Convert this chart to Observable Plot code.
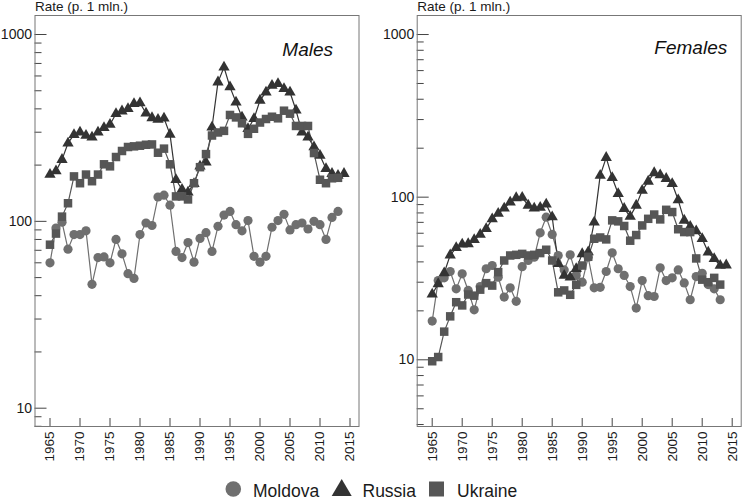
<!DOCTYPE html>
<html><head><meta charset="utf-8">
<script src="https://cdn.jsdelivr.net/npm/d3@7"></script>
<script src="https://cdn.jsdelivr.net/npm/@observablehq/plot@0.6"></script>
<style>
body{margin:0;background:#fff;font-family:"Liberation Sans",Arial,sans-serif;}
#wrap{position:relative;width:742px;height:499px;overflow:hidden;}
#left{position:absolute;left:0;top:0;}
#right{position:absolute;left:370px;top:0;}
#legend{position:absolute;left:0;top:470px;}
</style></head><body>
<div id="wrap"><div id="left"></div><div id="right"></div><div id="legend"></div></div>
<script>
const years = [1965,1966,1967,1968,1969,1970,1971,1972,1973,1974,1975,1976,1977,1978,1979,1980,1981,1982,1983,1984,1985,1986,1987,1988,1989,1990,1991,1992,1993,1994,1995,1996,1997,1998,1999,2000,2001,2002,2003,2004,2005,2006,2007,2008,2009,2010,2011,2012,2013,2014];
const countries = ["Moldova", "Russia", "Ukraine"];
const xTicks = [1965,1970,1975,1980,1985,1990,1995,2000,2005,2010,2015];
const yMajor = [10, 100, 1000];
const yLabel = "Rate (p. 1 mln.)";
const panelTitles = ["Males", "Females"];

// Males (1965–2013 for Moldova/Ukraine, 1965–2014 for Russia)
const moldovaMales = [60,92,99,71,85,85,89,46,64,64.5,60,80,67,52.5,49.5,85,98,95,135,138,122,69,64,77,60.5,81,87,69,94,108,113,96,89,101,65,60.5,65,93,101,109,90,96,98,91,100,96,80,105,113];
const russiaMales = [178,186,214,262,291,300,288,282,300,317,330,377,389,401,426,430,379,358,351,356,292,167,148,143,159,197,207,319,556,668,523,434,361,313,354,444,491,533,545,513,491,393,300,282,250,225,191,180,176,180];
const ukraineMales = [75,86,106,125,174,160,178,164,178,202,197,221,238,250,252,254,257,258,233,245,202,136,136,131,160,195,229,288,299,305,371,360,335,294,313,338,353,363,356,391,377,324,324,324,232,167,160,170,171];

// Females
const moldovaFemales = [17.3,30.7,31.9,34.9,27.3,33.8,26.7,20.3,28.2,36.3,38,32.2,24.3,27.7,22.9,37.4,40.8,42.7,60.4,75.3,59,43.8,35.7,44.2,33,30,42.7,27.7,27.9,34.9,45.5,36.3,33,28.2,20.8,30.7,24.8,24.5,36.8,30.7,31.9,35.7,29.7,23.4,32.5,34,29,27.3,23.4];
const russiaFemales = [25.3,29.3,34.2,44,48.8,51.4,51.6,54.7,59,64,73.3,79.3,85.5,93,99,99.5,89,85.5,86.5,90.5,75.5,38.9,33,32.2,36.3,44.8,46,70,136,175,131.5,105,85,76,89,110,125,141,137,130,121,96,72,66,62,55.5,45.9,41.8,38,38.2];
const ukraineFemales = [9.8,10.4,14.9,18.5,22.6,21.6,25.2,24.8,27,29.6,28.6,34.6,40.8,43.8,44.2,44.8,43.8,44.2,45.3,47.5,40.8,26,26.7,25.1,28.9,38,43,55.5,56.5,55,72,71,66.5,54,58.5,67,73.6,78.2,73,83.6,81,63.5,61,61,42,31.1,30,31.9,29];

const styles = {
  Moldova: {symbol: "circle", color: "#6f6f6f", r: 4.6},
  Russia:  {symbol: "triangle", color: "#333333", r: 4.2},
  Ukraine: {symbol: "square", color: "#565656", r: 4.8}
};

function rowsOf(country, values) {
  return values.map((v, i) => ({country, year: years[i], value: v}));
}

function minorTicks([lo, hi]) {
  const out = [];
  for (let e = Math.floor(Math.log10(lo)); e <= Math.ceil(Math.log10(hi)); e++) {
    const base = Math.pow(10, e);
    for (let k = 2; k <= 9; k++) {
      const v = k * base;
      if (v >= lo && v <= hi) out.push(v);
    }
  }
  return out;
}

function makePanel({series, yDomain, width, marginLeft, marginRight, title, titleDx, titleDy}) {
  const height = 470, marginTop = 15, marginBottom = 44;
  const frameW = width - marginLeft - marginRight;
  const frameH = height - marginTop - marginBottom;
  const marks = [
    Plot.axisY({ticks: yMajor, tickSize: 0, tickPadding: 3, fontSize: 14, label: null, tickFormat: d => String(d), fill: "#1a1a1a"}),
    Plot.axisX({ticks: xTicks, tickSize: 0, tickPadding: 5, tickRotate: -90, fontSize: 13.5, label: null, tickFormat: d => String(d), fill: "#1a1a1a"}),
    Plot.tickY(yMajor, {y: d => d, insetRight: frameW - 12, stroke: "#444"}),
    Plot.tickY(minorTicks(yDomain), {y: d => d, insetRight: frameW - 7, stroke: "#444"}),
    Plot.tickX(xTicks, {x: d => d, insetTop: frameH - 8, stroke: "#444"}),
    Plot.frame({stroke: "#777"})
  ];
  for (const c of countries) {
    const data = series[c];
    const s = styles[c];
    marks.push(Plot.line(data, {x: "year", y: "value", stroke: s.color, strokeWidth: 1.2}));
  }
  for (const c of countries) {
    const data = series[c];
    const s = styles[c];
    marks.push(Plot.dot(data, {x: "year", y: "value", symbol: s.symbol, fill: s.color, stroke: "none", r: s.r}));
  }
  marks.push(Plot.text([yLabel], {text: d => d, frameAnchor: "top-left", textAnchor: "start", lineAnchor: "bottom", dy: -5, fontSize: 13.5, fill: "#1a1a1a"}));
  marks.push(Plot.text([title], {text: d => d, frameAnchor: "top-right", textAnchor: "end", lineAnchor: "bottom", dx: titleDx, dy: titleDy, fontSize: 19, fontStyle: "italic", fill: "#111"}));
  return Plot.plot({
    width, height, marginLeft, marginRight, marginTop, marginBottom,
    style: {fontFamily: "'Liberation Sans', Arial, sans-serif", background: "white", color: "#1a1a1a", overflow: "visible"},
    x: {domain: [1962.5, 2016.5], label: null},
    y: {type: "log", domain: yDomain, label: null},
    marks
  });
}

document.getElementById("left").appendChild(makePanel({
  series: {Moldova: rowsOf("Moldova", moldovaMales), Russia: rowsOf("Russia", russiaMales), Ukraine: rowsOf("Ukraine", ukraineMales)},
  yDomain: [7.98, 1264], width: 370, marginLeft: 34.5, marginRight: 11.5,
  title: panelTitles[0], titleDx: -26, titleDy: 40
}));
document.getElementById("right").appendChild(makePanel({
  series: {Moldova: rowsOf("Moldova", moldovaFemales), Russia: rowsOf("Russia", russiaFemales), Ukraine: rowsOf("Ukraine", ukraineFemales)},
  yDomain: [3.89, 1309], width: 372, marginLeft: 46.7, marginRight: 1.3,
  title: panelTitles[1], titleDx: -14, titleDy: 38
}));

// legend
const ns = "http://www.w3.org/2000/svg";
const lg = document.createElementNS(ns, "svg");
lg.setAttribute("width", 742); lg.setAttribute("height", 29);
lg.style.fontFamily = "'Liberation Sans', Arial, sans-serif";
const items = [
  {c: "Moldova", sx: 233.3, tx: 253},
  {c: "Russia", sx: 341.7, tx: 362.5},
  {c: "Ukraine", sx: 436.5, tx: 457}
];
for (const it of items) {
  const s = styles[it.c];
  let shape;
  if (s.symbol === "circle") {
    shape = document.createElementNS(ns, "circle");
    shape.setAttribute("cx", it.sx); shape.setAttribute("cy", 19); shape.setAttribute("r", 7.8);
  } else if (s.symbol === "triangle") {
    shape = document.createElementNS(ns, "path");
    shape.setAttribute("d", `M${it.sx},9 L${it.sx + 10},26 L${it.sx - 10},26 Z`);
  } else {
    shape = document.createElementNS(ns, "rect");
    shape.setAttribute("x", it.sx - 7.5); shape.setAttribute("y", 11.5); shape.setAttribute("width", 15); shape.setAttribute("height", 15);
  }
  shape.setAttribute("fill", s.color);
  lg.appendChild(shape);
  const t = document.createElementNS(ns, "text");
  t.setAttribute("x", it.tx); t.setAttribute("y", 26.5);
  t.setAttribute("font-size", 17.5); t.setAttribute("fill", "#1a1a1a");
  t.textContent = it.c;
  lg.appendChild(t);
}
document.getElementById("legend").appendChild(lg);
</script>
</body></html>
